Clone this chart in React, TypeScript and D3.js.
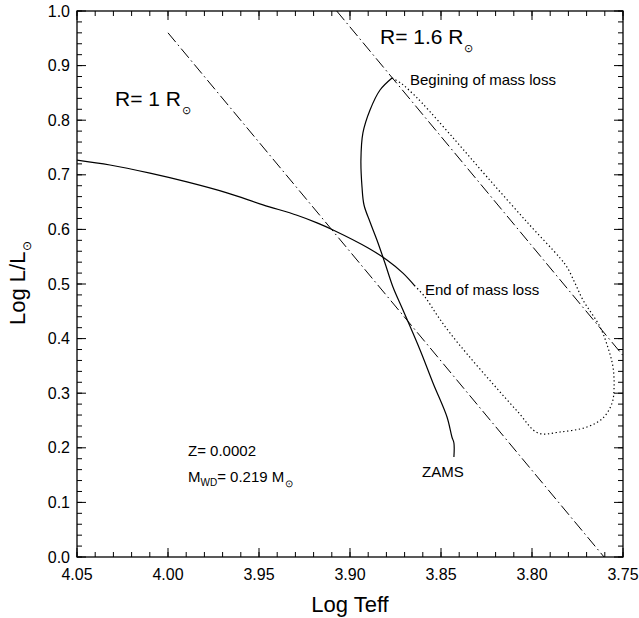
import React from 'react';
import * as d3 from 'd3';

// axis ticks
const xMajor = [4.05, 4.0, 3.95, 3.9, 3.85, 3.8, 3.75];
const yMajor = [0, 0.1, 0.2, 0.3, 0.4, 0.5, 0.6, 0.7, 0.8, 0.9, 1.0];

// track from ZAMS up to the beginning of mass loss (solid)
const zamsTeff = [3.8429, 3.8429, 3.844, 3.8467, 3.8544, 3.8615, 3.8709, 3.8764, 3.8808, 3.8852, 3.889, 3.8923, 3.8934, 3.894, 3.8929, 3.889, 3.8835, 3.8769];
const zamsLum = [0.1832, 0.2088, 0.2198, 0.2564, 0.3187, 0.3791, 0.4524, 0.4945, 0.5385, 0.5806, 0.6136, 0.6447, 0.6777, 0.7271, 0.7766, 0.8187, 0.8553, 0.8773];

// mass loss phase (dotted)
const lossTeff = [3.8769, 3.8714, 3.8659, 3.8604, 3.8423, 3.8247, 3.8028, 3.7846, 3.7808, 3.7764, 3.772, 3.7626, 3.7582, 3.7555, 3.7549, 3.756, 3.761, 3.7698, 3.7846, 3.7967, 3.8077, 3.8214, 3.8352, 3.8451, 3.8522, 3.8588, 3.8643];
const lossLum = [0.8773, 0.8663, 0.8498, 0.8315, 0.7637, 0.696, 0.6136, 0.5476, 0.5311, 0.5018, 0.4707, 0.4212, 0.3828, 0.348, 0.3114, 0.2821, 0.2546, 0.2381, 0.2289, 0.2271, 0.2656, 0.3168, 0.37, 0.4103, 0.4432, 0.4762, 0.4963];

// after the end of mass loss (solid)
const postTeff = [3.8643, 3.8709, 3.8797, 3.89, 3.9093, 3.9181, 3.9291, 3.9478, 3.9676, 3.9896, 4.0099, 4.0319, 4.05];
const postLum = [0.4963, 0.52, 0.544, 0.566, 0.599, 0.612, 0.626, 0.645, 0.667, 0.687, 0.703, 0.718, 0.727];

// constant radius lines
const r1Teff = [4.0, 3.7604];
const r1Lum = [0.96, 0.0];
const r16Teff = [3.9073, 3.75];
const r16Lum = [1.0, 0.369];

const left = 77, right = 623, top = 11, bottom = 557;
const font = "'Liberation Sans', Arial, Helvetica, sans-serif";

const App = () => {
  const x = d3.scaleLinear().domain([4.05, 3.75]).range([left, right]);
  const y = d3.scaleLinear().domain([0, 1]).range([bottom, top]);

  const line = d3.line<[number, number]>()
    .x(d => x(d[0]))
    .y(d => y(d[1]))
    .curve(d3.curveCatmullRom.alpha(0.5));
  const straight = d3.line<[number, number]>().x(d => x(d[0])).y(d => y(d[1]));

  const pts = (a: number[], b: number[]) => a.map((v, i) => [v, b[i]] as [number, number]);

  const xMinor = d3.range(0, 31).map(i => 4.05 - i * 0.01);
  const yMinor = d3.range(0, 51).map(i => i * 0.02);

  return (
    <svg width={639} height={618} style={{ position: 'absolute', left: 0, top: 0, background: '#fff' }} fontFamily={font}>
      <defs>
        <clipPath id="plot">
          <rect x={left} y={top} width={right - left} height={bottom - top} />
        </clipPath>
      </defs>

      {/* minor ticks */}
      {xMinor.map((v, i) => (
        <g key={'xm' + i} stroke="#000" strokeWidth={1}>
          <line x1={x(v)} x2={x(v)} y1={bottom} y2={bottom - 5} />
          <line x1={x(v)} x2={x(v)} y1={top} y2={top + 5} />
        </g>
      ))}
      {yMinor.map((v, i) => (
        <g key={'ym' + i} stroke="#000" strokeWidth={1}>
          <line x1={left} x2={left + 5} y1={y(v)} y2={y(v)} />
          <line x1={right} x2={right - 5} y1={y(v)} y2={y(v)} />
        </g>
      ))}
      {/* major ticks + labels */}
      {xMajor.map(v => (
        <g key={'x' + v}>
          <line x1={x(v)} x2={x(v)} y1={bottom} y2={bottom - 9} stroke="#000" strokeWidth={1} />
          <line x1={x(v)} x2={x(v)} y1={top} y2={top + 9} stroke="#000" strokeWidth={1} />
          <text x={x(v)} y={580} fontSize={16} textAnchor="middle">{v.toFixed(2)}</text>
        </g>
      ))}
      {yMajor.map(v => (
        <g key={'y' + v}>
          <line x1={left} x2={left + 9} y1={y(v)} y2={y(v)} stroke="#000" strokeWidth={1} />
          <line x1={right} x2={right - 9} y1={y(v)} y2={y(v)} stroke="#000" strokeWidth={1} />
          <text x={70} y={y(v) + 5.5} fontSize={16} textAnchor="end">{v.toFixed(1)}</text>
        </g>
      ))}
      <rect x={left} y={top} width={right - left} height={bottom - top} fill="none" stroke="#000" strokeWidth={1.3} />

      <g clipPath="url(#plot)" fill="none" stroke="#000">
        <path d={straight(pts(r1Teff, r1Lum)) || ''} strokeWidth={1} strokeDasharray="12,3.5,1.5,3.5" />
        <path d={straight(pts(r16Teff, r16Lum)) || ''} strokeWidth={1} strokeDasharray="12,3.5,1.5,3.5" />
        <path d={line(pts(zamsTeff, zamsLum)) || ''} strokeWidth={1.2} />
        <path d={line(pts(lossTeff, lossLum)) || ''} strokeWidth={1.2} strokeDasharray="1.3,2.6" />
        <path d={line(pts(postTeff, postLum)) || ''} strokeWidth={1.2} />
      </g>

      {/* annotations */}
      <text x={115} y={106} fontSize={21}>R= 1 R<tspan fontSize={11} dx={1} dy={8}>⊙</tspan></text>
      <text x={380} y={44} fontSize={21}>R= 1.6 R<tspan fontSize={11} dx={1} dy={8}>⊙</tspan></text>
      <text x={410} y={85} fontSize={15}>Begining of mass loss</text>
      <text x={425} y={295} fontSize={15}>End of mass loss</text>
      <text x={422} y={477} fontSize={15}>ZAMS</text>
      <text x={188} y={456} fontSize={15}>Z= 0.0002</text>
      <text x={188} y={482} fontSize={15}>M<tspan fontSize={10} dy={4}>WD</tspan><tspan dy={-4}>= 0.219 M</tspan><tspan fontSize={10} dx={1} dy={5}>⊙</tspan></text>

      {/* axis titles */}
      <text x={350} y={612} fontSize={22} textAnchor="middle">Log Teff</text>
      <text transform="translate(25,325) rotate(-90)" fontSize={22}>Log L/L<tspan fontSize={12} dx={1} dy={6}>⊙</tspan></text>
    </svg>
  );
};

export default App;
